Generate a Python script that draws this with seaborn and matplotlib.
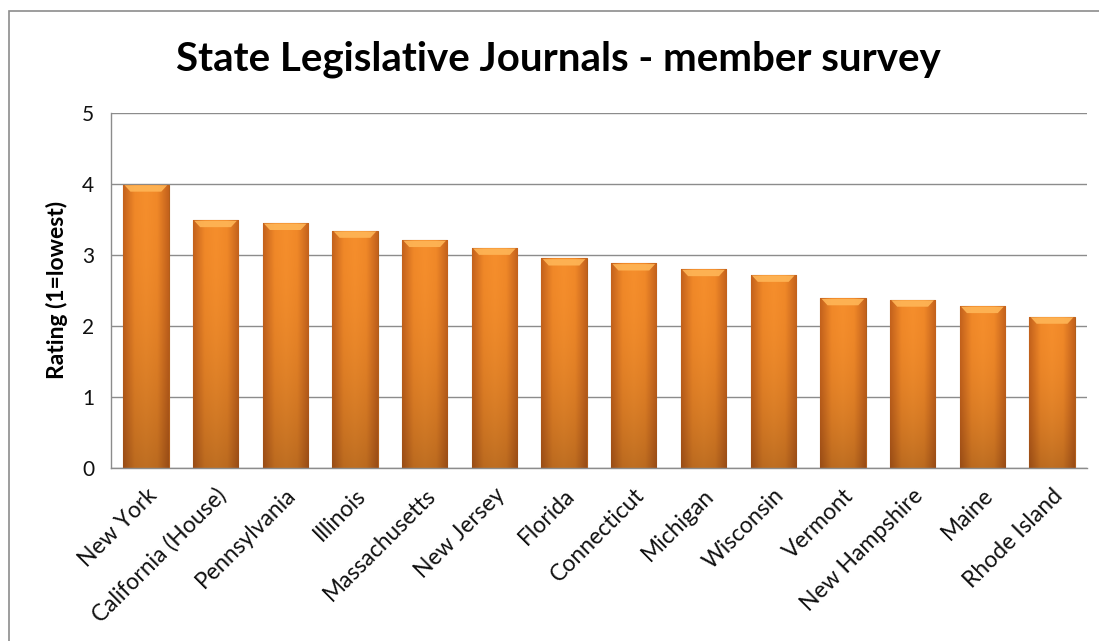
import numpy as np
import pandas as pd
import matplotlib.pyplot as plt
import seaborn as sns
from matplotlib.patches import Rectangle, Polygon
from matplotlib.colors import LinearSegmentedColormap

states = ["New York", "California (House)", "Pennsylvania", "Illinois",
          "Massachusetts", "New Jersey", "Florida", "Connecticut", "Michigan",
          "Wisconsin", "Vermont", "New Hampshire", "Maine", "Rhode Island"]
ratings = [3.99, 3.49, 3.45, 3.34, 3.21, 3.10, 2.95, 2.88, 2.80, 2.72,
           2.39, 2.37, 2.28, 2.13]
y_ticks = [0, 1, 2, 3, 4, 5]

df = pd.DataFrame({"State": states, "Rating": ratings})

sns.set_theme(style="white")
plt.rcParams["font.family"] = ["Lato", "DejaVu Sans"]

fig = plt.figure(figsize=(10.99, 6.41), dpi=100)
ax = fig.add_axes([0.101, 0.270, 0.888, 0.554])

sns.barplot(data=df, x="State", y="Rating", color="#F28A28", width=0.65,
            edgecolor="#B25E1A", linewidth=0.8, saturation=1, ax=ax, zorder=2)

# shaded look on each bar: darker toward the bottom and the sides
cmap = LinearSegmentedColormap.from_list(
    "bar", ["#C4621C", "#F08828", "#F58E2C", "#F08828", "#C4621C"])
X, Y = np.meshgrid(np.linspace(0, 1, 60), np.linspace(0, 1, 60))
for p in ax.patches:
    x0, y0 = p.get_x(), p.get_y()
    w, h = p.get_width(), p.get_height()
    rgb = cmap(X)[..., :3]
    dark = (1 - Y) ** 2 * 0.22
    rgb = rgb * (1 - dark[..., None])
    im = ax.imshow(rgb, extent=(x0, x0 + w, y0, y0 + h), origin="lower",
                   aspect="auto", zorder=2.5, interpolation="bilinear")
    im.set_clip_path(p)
    # light bevel on top
    top = y0 + h
    ax.add_patch(Polygon([(x0 + w * 0.03, top - 0.01), (x0 + w * 0.97, top - 0.01),
                          (x0 + w * 0.84, top - 0.10), (x0 + w * 0.16, top - 0.10)],
                         closed=True, facecolor="#FFB657", edgecolor="none",
                         alpha=0.9, zorder=2.6))

ax.set_xlim(-0.5, len(states) - 0.5)
ax.set_ylim(0, 5)
ax.set_yticks(y_ticks)
ax.yaxis.grid(True, color="#8C8C8C", linewidth=1.0, zorder=0)
ax.set_axisbelow(True)
for s in ["top", "right"]:
    ax.spines[s].set_visible(False)
for s in ["left", "bottom"]:
    ax.spines[s].set_color("#8C8C8C")
    ax.spines[s].set_linewidth(1.0)

ax.tick_params(axis="y", labelsize=15, pad=12, length=0, labelcolor="#111111")
ax.tick_params(axis="x", labelsize=16.5, length=0, pad=12, labelcolor="#111111")
plt.setp(ax.get_xticklabels(), rotation=45, ha="right", rotation_mode="anchor")
ax.set_xlabel("")
ax.set_ylabel("Rating (1=lowest)", fontsize=16.5, fontweight="bold",
              labelpad=10, color="black")

fig.text(0.508, 0.907, "State Legislative Journals - member survey",
         ha="center", va="center", fontsize=29, fontweight="bold", color="black")

# outer chart frame
fig.add_artist(Rectangle((9 / 1099, -0.02), 1.1, 1 - 11 / 641 + 0.02,
                         transform=fig.transFigure, fill=False,
                         edgecolor="#8C8C8C", linewidth=1.2))

fig.savefig("out.png", dpi=100)
